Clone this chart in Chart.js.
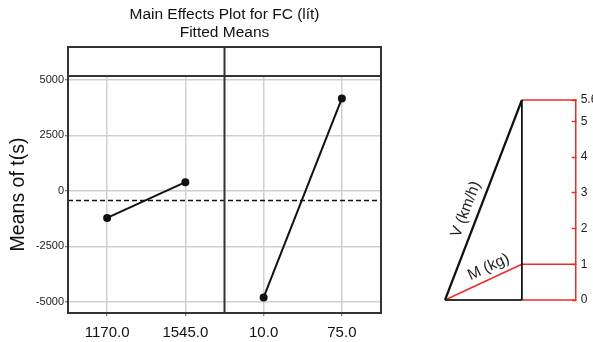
<!DOCTYPE html>
<html>
<head>
<meta charset="utf-8">
<script src="https://cdn.jsdelivr.net/npm/chart.js@4/dist/chart.umd.min.js"></script>
<style>
  html, body { margin: 0; padding: 0; background: #fff; width: 593px; height: 342px; overflow: hidden; }
  #wrap { position: relative; width: 593px; height: 342px; }
  #effects { position: absolute; left: 0; top: 0; }
  #scale { position: absolute; left: 430px; top: 0; }
</style>
</head>
<body>
<div id="wrap">
  <canvas id="effects" width="452" height="342"></canvas>
  <canvas id="scale" width="163" height="342"></canvas>
</div>
<script>
// ---- main effects data ----
const titleLines = ['Main Effects Plot for FC (lít)', 'Fitted Means'];
const yAxisTitle = 'Means of t(s)';
const factorALevels = ['1170.0', '1545.0'];
const factorAMeans = [-1220, 390];
const factorBLevels = ['10.0', '75.0'];
const factorBMeans = [-4810, 4170];
const grandMean = -440;
const meanTicks = [-5000, -2500, 0, 2500, 5000];

// ---- right-hand scale diagram data ----
const scaleTicks = [0, 1, 2, 3, 4, 5, 5.6];
const speedLevel = 5.6;
const massLevel = 1;
const speedLabel = 'V (km/h)';
const massLabel = 'M (kg)';

const FONT = "'Liberation Sans', Arial, Helvetica, sans-serif";
const GRID = '#d0d0d0';
const INK = '#111';
const RED = '#ee2b2b';

// Each factor owns a panel two units wide; its two levels sit at +0.5 and +1.5.
const levelLabels = factorALevels.concat(factorBLevels);
const levelPositions = levelLabels.map((_, i) => Math.floor(i / 2) * 2 + 0.5 + (i % 2));

function effectLine(offset, means) {
  return {
    data: means.map((m, i) => ({ x: offset + 0.5 + i, y: m })),
    showLine: true,
    borderColor: INK,
    borderWidth: 2,
    pointRadius: 3,
    pointBackgroundColor: INK,
    pointBorderColor: INK,
    clip: false
  };
}

// Frame, panel divider and empty header strip of the two-panel plot
const panelFrame = {
  id: 'panelFrame',
  afterDraw(chart) {
    const { ctx, chartArea: a, scales: { x } } = chart;
    const stripTop = a.top - 29;
    const xd = x.getPixelForValue(2);
    ctx.save();
    ctx.strokeStyle = '#333';
    ctx.lineWidth = 2;
    ctx.strokeRect(a.left, stripTop, a.right - a.left, a.bottom - stripTop);
    ctx.beginPath();
    ctx.moveTo(a.left, a.top);
    ctx.lineTo(a.right, a.top);
    ctx.moveTo(xd, stripTop);
    ctx.lineTo(xd, a.bottom);
    ctx.stroke();
    ctx.restore();
  }
};

new Chart(document.getElementById('effects'), {
  type: 'scatter',
  data: {
    datasets: [
      effectLine(0, factorAMeans),
      effectLine(2, factorBMeans),
      {
        data: [{ x: 0, y: grandMean }, { x: 4, y: grandMean }],
        showLine: true,
        borderColor: INK,
        borderWidth: 1.5,
        borderDash: [5, 3],
        pointRadius: 0,
        clip: false
      }
    ]
  },
  options: {
    responsive: false,
    devicePixelRatio: 1,
    animation: false,
    events: [],
    layout: { padding: { left: 0, right: 71, top: 0, bottom: 2 } },
    plugins: {
      legend: { display: false },
      tooltip: { enabled: false },
      title: {
        display: true,
        fullSize: false,
        text: titleLines,
        color: INK,
        font: { family: FONT, size: 15.5, weight: 'normal', lineHeight: 1.2 },
        padding: { top: 5, bottom: 33.8 }
      }
    },
    scales: {
      x: {
        type: 'linear',
        min: 0,
        max: 4,
        afterBuildTicks: (s) => { s.ticks = levelPositions.map(v => ({ value: v })); },
        afterFit: (s) => { s.height = 27; },
        ticks: {
          autoSkip: false,
          maxRotation: 0,
          padding: 8,
          color: INK,
          font: { family: FONT, size: 15 },
          callback: (v, i) => levelLabels[i]
        },
        grid: { color: GRID, lineWidth: 1.5, tickLength: 3, tickColor: '#555', tickWidth: 1 },
        border: { display: false }
      },
      y: {
        min: -5510,
        max: 5180,
        afterBuildTicks: (s) => { s.ticks = meanTicks.map(v => ({ value: v })); },
        afterFit: (s) => { s.width = 68; },
        ticks: {
          autoSkip: false,
          padding: 1,
          color: '#222',
          font: { family: FONT, size: 11 },
          callback: (v) => String(v)
        },
        grid: { color: GRID, lineWidth: 1.5, tickLength: 3, tickColor: '#555', tickWidth: 1 },
        border: { display: false },
        title: {
          display: true,
          text: yAxisTitle,
          color: INK,
          font: { family: FONT, size: 19.5, lineHeight: 1.2 },
          padding: { top: 7, bottom: 0 }
        }
      }
    }
  },
  plugins: [panelFrame]
});

// ---- scale diagram ----
const riserX = 1;
const axisX = 1.7;
function seg(x0, y0, x1, y1, color, width) {
  return {
    data: [{ x: x0, y: y0 }, { x: x1, y: y1 }],
    showLine: true,
    borderColor: color,
    borderWidth: width,
    pointRadius: 0,
    clip: false
  };
}

// Text set along a sloped edge, lifted off it by a fixed gap
const edgeLabels = {
  id: 'edgeLabels',
  afterDatasetsDraw(chart) {
    const { ctx, scales: { x, y } } = chart;
    const put = (text, p0, p1, t, gap, size) => {
      const ax = x.getPixelForValue(p0[0]), ay = y.getPixelForValue(p0[1]);
      const bx = x.getPixelForValue(p1[0]), by = y.getPixelForValue(p1[1]);
      const ang = Math.atan2(by - ay, bx - ax);
      ctx.save();
      ctx.translate(ax + (bx - ax) * t, ay + (by - ay) * t);
      ctx.rotate(ang);
      ctx.fillStyle = '#222';
      ctx.font = size + 'px ' + FONT;
      ctx.textAlign = 'center';
      ctx.textBaseline = 'middle';
      ctx.fillText(text, 0, -gap);
      ctx.restore();
    };
    put(speedLabel, [0, 0], [riserX, speedLevel], 0.43, 13, 15.5);
    put(massLabel, [0, 0], [riserX, massLevel], 0.63, 11.5, 15.5);
  }
};

new Chart(document.getElementById('scale'), {
  type: 'scatter',
  data: {
    datasets: [
      seg(0, 0, riserX, speedLevel, INK, 2.2),
      seg(riserX, 0, riserX, speedLevel, INK, 1.8),
      seg(0, 0, riserX, 0, '#333', 2),
      seg(0, 0, riserX, massLevel, RED, 1.5),
      seg(riserX, speedLevel, axisX, speedLevel, RED, 1.5),
      seg(riserX, massLevel, axisX, massLevel, RED, 1.5),
      seg(riserX, 0, axisX, 0, RED, 1.5)
    ]
  },
  options: {
    responsive: false,
    devicePixelRatio: 1,
    animation: false,
    events: [],
    layout: { padding: { left: 15, right: 0, top: 100, bottom: 42 } },
    plugins: { legend: { display: false }, tooltip: { enabled: false }, title: { display: false } },
    scales: {
      x: { type: 'linear', display: false, min: 0, max: axisX },
      y: {
        position: 'right',
        min: 0,
        max: Math.max(...scaleTicks),
        afterBuildTicks: (s) => { s.ticks = scaleTicks.map(v => ({ value: v })); },
        afterFit: (s) => { s.width = 17.3; },
        ticks: {
          autoSkip: false,
          padding: 9,
          color: '#222',
          font: { family: FONT, size: 12 },
          callback: (v) => String(v)
        },
        // tick marks point inward, toward the triangle
        grid: { drawOnChartArea: false, tickLength: -4, tickColor: RED, tickWidth: 1.5 },
        border: { display: true, color: RED, width: 1.5 }
      }
    }
  },
  plugins: [edgeLabels]
});
</script>
</body>
</html>
